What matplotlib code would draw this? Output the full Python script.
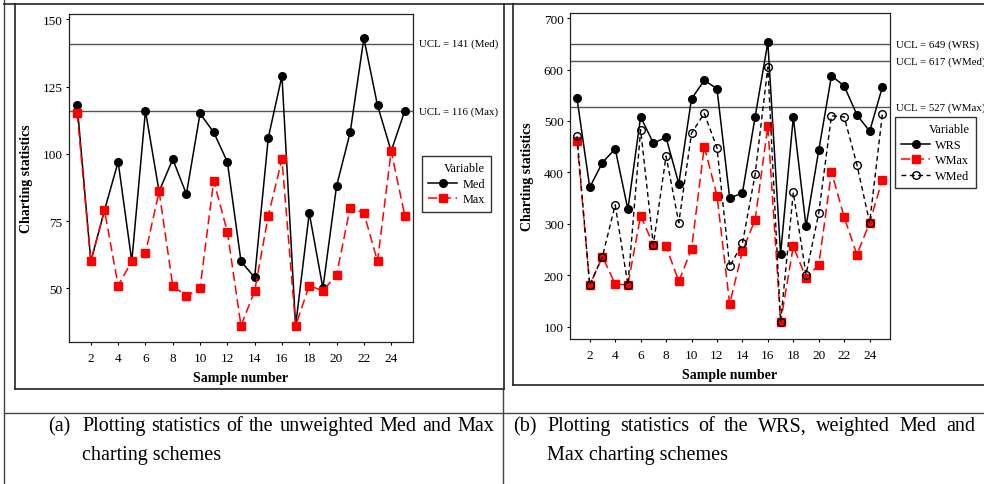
import numpy as np
import matplotlib
matplotlib.use("Agg")
import matplotlib.pyplot as plt
from matplotlib.lines import Line2D

# Daten
samples = np.arange(1, 26)

med = [118, 60, 79, 97, 60, 116, 86, 98, 85, 115, 108, 97, 60, 54, 106,
       129, 36, 78, 50, 88, 108, 143, 118, 101, 116]
mx = [115, 60, 79, 51, 60, 63, 86, 51, 47, 50, 90, 71, 36, 49, 77,
      98, 36, 51, 49, 55, 80, 78, 60, 101, 77]

wrs = [544, 371, 419, 446, 328, 508, 457, 468, 378, 543, 579, 563, 350, 360, 508,
       653, 241, 507, 295, 443, 588, 568, 512, 480, 566]
wmax = [461, 181, 236, 183, 181, 316, 259, 256, 188, 251, 450, 355, 144, 247, 308,
        490, 109, 256, 195, 220, 401, 313, 240, 302, 386]
wmed = [470, 181, 236, 337, 181, 483, 259, 432, 302, 476, 515, 448, 217, 262, 396,
        605, 109, 361, 201, 321, 510, 508, 415, 302, 513]

ucl_a = [141, 116]
ucl_a_labels = ["UCL = 141 (Med)", "UCL = 116 (Max)"]
ucl_b = [649, 617, 527]
ucl_b_labels = ["UCL = 649 (WRS)", "UCL = 617 (WMed)", "UCL = 527 (WMax)"]

xticks = np.arange(2, 26, 2)
yticks_a = [50, 75, 100, 125, 150]
yticks_b = [100, 200, 300, 400, 500, 600, 700]

caption_a = ["(a)", "Plotting statistics of the unweighted Med and Max", "charting schemes"]
caption_b = ["(b)", "Plotting statistics of the WRS, weighted Med and", "Max charting schemes"]

plt.rcParams['font.family'] = ['Liberation Serif', 'DejaVu Serif']

W, H = 984, 485
fig = plt.figure(figsize=(W / 100, H / 100), dpi=100)


def fx(x):
    return x / W


def fy(y):
    return 1 - y / H


def rect(l, t, r, b):
    return [fx(l), fy(b), fx(r) - fx(l), fy(t) - fy(b)]


def fline(x0, y0, x1, y1, color='#444444', lw=1.0):
    fig.add_artist(Line2D([fx(x0), fx(x1)], [fy(y0), fy(y1)],
                          transform=fig.transFigure, color=color, lw=lw))


def style_axes(ax, yticks, ylim, xlim):
    ax.set_xlim(*xlim)
    ax.set_ylim(*ylim)
    ax.set_xticks(xticks)
    ax.set_yticks(yticks)
    ax.tick_params(direction='out', length=2.5, width=0.8, labelsize=9.5, pad=2)
    ax.tick_params(axis='x', pad=5)
    for s in ax.spines.values():
        s.set_linewidth(0.9)
        s.set_color('#222222')
    ax.set_xlabel("Sample number", fontsize=10, fontweight='bold', labelpad=5)
    ax.set_ylabel("Charting statistics", fontsize=10, fontweight='bold', labelpad=7)


def ucl_lines(ax, values, labels):
    for v, lab in zip(values, labels):
        ax.axhline(v, color='#555555', lw=1.0, zorder=1)
        ax.annotate(lab, xy=(1, v), xycoords=('axes fraction', 'data'),
                    xytext=(4, 0), textcoords='offset points',
                    va='center', ha='left', fontsize=7.8, annotation_clip=False)


def justify(line, x0, x1, y, size):
    # Wörter einzeln setzen, damit die Zeile von x0 bis x1 reicht
    words = line.split()
    texts = [fig.text(0, 0, w, fontsize=size, va='center', ha='left') for w in words]
    renderer = fig.canvas.get_renderer()
    widths = [t.get_window_extent(renderer).width for t in texts]
    gap = (x1 - x0 - sum(widths)) / (len(words) - 1)
    x = x0
    for t, w in zip(texts, widths):
        t.set_position((fx(x), fy(y)))
        x += w + gap


# --- Tabellenrahmen ---
fline(4, 0, 4, H)
fline(4, 5, W, 5, color='#222222', lw=1.2)
fline(503, 390, 503, H)
fline(4, 414, W, 414)
# Rahmen um die Grafiken
fline(15, 5, 15, 390, color='#222222', lw=1.2)
fline(15, 390, 504, 390, color='#222222', lw=1.2)
fline(504, 5, 504, 390, color='#222222', lw=1.2)
fline(513, 5, 513, 386, color='#222222', lw=1.2)
fline(513, 386, W, 386, color='#222222', lw=1.2)

leg_kw = dict(title='Variable', loc='upper left', bbox_transform=fig.transFigure,
              fontsize=8.8, title_fontsize=8.8, frameon=True, fancybox=False,
              edgecolor='black', handlelength=2.4, borderpad=0.5, labelspacing=0.3,
              handletextpad=0.4, borderaxespad=0, alignment='right')

# --- (a) ---
ax1 = fig.add_axes(rect(69, 15, 413, 343))
ax1.plot(samples, med, color='black', lw=1.1, marker='o', ms=5.5, label='Med', zorder=3)
ax1.plot(samples, mx, color='#ff0000', lw=1.1, ls=(0, (6, 3)), marker='s', ms=6,
         label='Max', zorder=4)
ucl_lines(ax1, ucl_a, ucl_a_labels)
style_axes(ax1, yticks_a, (30, 152), (0.4, 25.6))
leg1 = ax1.legend(bbox_to_anchor=(fx(422), fy(157)), **leg_kw)
leg1.get_frame().set_linewidth(1.0)

# --- (b) ---
ax2 = fig.add_axes(rect(570, 14, 890, 340))
ax2.plot(samples, wrs, color='black', lw=1.1, marker='o', ms=5.5, label='WRS', zorder=3)
ax2.plot(samples, wmax, color='#ff0000', lw=1.1, ls=(0, (6, 3)), marker='s', ms=6,
         label='WMax', zorder=4)
ax2.plot(samples, wmed, color='black', lw=1.0, ls=(0, (3.5, 2.5)), marker='o', ms=5.5,
         mfc='none', mec='black', mew=1.0, label='WMed', zorder=5)
ucl_lines(ax2, ucl_b, ucl_b_labels)
style_axes(ax2, yticks_b, (76, 710), (0.45, 25.6))
leg2 = ax2.legend(bbox_to_anchor=(fx(895), fy(118)), **leg_kw)
leg2.get_frame().set_linewidth(1.0)

# --- Beschriftungen ---
cap_size = 14.5
fig.text(fx(48), fy(427), caption_a[0], fontsize=cap_size, va='center', ha='left')
justify(caption_a[1], 82, 494, 427, cap_size)
fig.text(fx(82), fy(456), caption_a[2], fontsize=cap_size, va='center', ha='left')
fig.text(fx(513), fy(427), caption_b[0], fontsize=cap_size, va='center', ha='left')
justify(caption_b[1], 547, 975, 427, cap_size)
fig.text(fx(547), fy(456), caption_b[2], fontsize=cap_size, va='center', ha='left')

fig.savefig("out.png", dpi=100, facecolor='white')
